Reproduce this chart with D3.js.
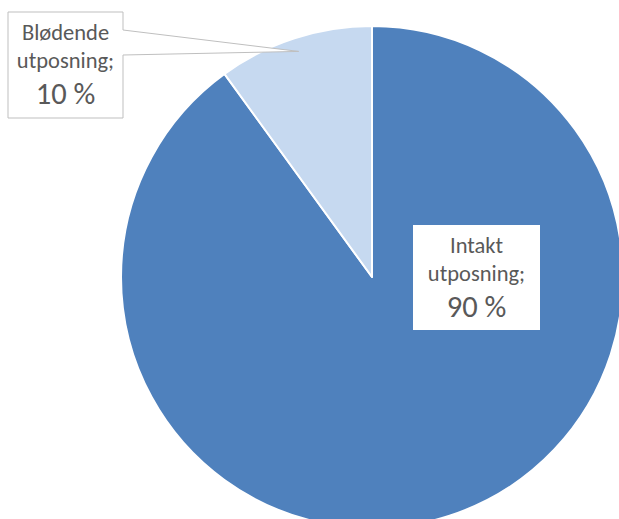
<!DOCTYPE html>
<html>
<head>
<meta charset="utf-8">
<script src="https://cdn.jsdelivr.net/npm/d3@7"></script>
<style>
  html, body { margin: 0; padding: 0; background: #ffffff; }
  svg { display: block; }
</style>
</head>
<body>
<svg id="chart" width="619" height="519"></svg>
<script>
// ---- data ----
const categories = ["Intakt utposning", "Blødende utposning"];
const values = [90, 10];
const colors = ["#4f81bd", "#c6d9f0"];
const valueSuffix = " %";

// ---- layout ----
const W = 619, H = 519;
const cx = 372, cy = 277, R = 251;
const fontFamily = "Carlito, Calibri, Lato, 'Open Sans', sans-serif";
const textColor = "#595959";
// label boxes (layout only)
const boxes = [
  { x: 413, y: 225, w: 127, h: 105, border: false },
  { x: 8,   y: 12,  w: 115, h: 106, border: true, ptrTop: 30, ptrBot: 55, tipR: 0.945 }
];
const lineOffsets = [28, 56, 92];
const lineSizes = [22.5, 22.5, 30.5];

const svg = d3.select("#chart");

const pie = d3.pie().sort(null).value(d => d);
const arcs = pie(values);
const arc = d3.arc().innerRadius(0).outerRadius(R);
const color = d3.scaleOrdinal().domain(categories).range(colors);

const g = svg.append("g").attr("transform", `translate(${cx},${cy})`);
g.selectAll("path.slice")
  .data(arcs)
  .join("path")
  .attr("class", "slice")
  .attr("d", arc)
  .attr("fill", (d, i) => color(categories[i]))
  .attr("stroke", "#ffffff")
  .attr("stroke-width", 2)
  .attr("stroke-linejoin", "round");

// labels
const labelsG = svg.append("g");
arcs.forEach((a, i) => {
  const b = boxes[i];
  const words = categories[i].split(" ");
  const lines = [words[0], words.slice(1).join(" ") + ";", values[i] + valueSuffix];
  const lg = labelsG.append("g");
  if (b.border) {
    const tipArc = d3.arc().innerRadius(R * b.tipR).outerRadius(R * b.tipR);
    const c = tipArc.centroid(a);
    const tip = [cx + c[0], cy + c[1]];
    const p = d3.path();
    p.moveTo(b.x, b.y);
    p.lineTo(b.x + b.w, b.y);
    p.lineTo(b.x + b.w, b.ptrTop);
    p.lineTo(tip[0], tip[1]);
    p.lineTo(b.x + b.w, b.ptrBot);
    p.lineTo(b.x + b.w, b.y + b.h);
    p.lineTo(b.x, b.y + b.h);
    p.closePath();
    lg.append("path")
      .attr("d", p.toString())
      .attr("fill", "#ffffff")
      .attr("stroke", "#bfbfbf")
      .attr("stroke-width", 1);
  } else {
    lg.append("rect")
      .attr("x", b.x).attr("y", b.y)
      .attr("width", b.w).attr("height", b.h)
      .attr("fill", "#ffffff");
  }
  lines.forEach((t, k) => {
    lg.append("text")
      .attr("x", b.x + b.w / 2)
      .attr("y", b.y + lineOffsets[k])
      .attr("text-anchor", "middle")
      .attr("font-family", fontFamily)
      .attr("font-size", lineSizes[k])
      .attr("fill", textColor)
      .text(t);
  });
});
</script>
</body>
</html>
